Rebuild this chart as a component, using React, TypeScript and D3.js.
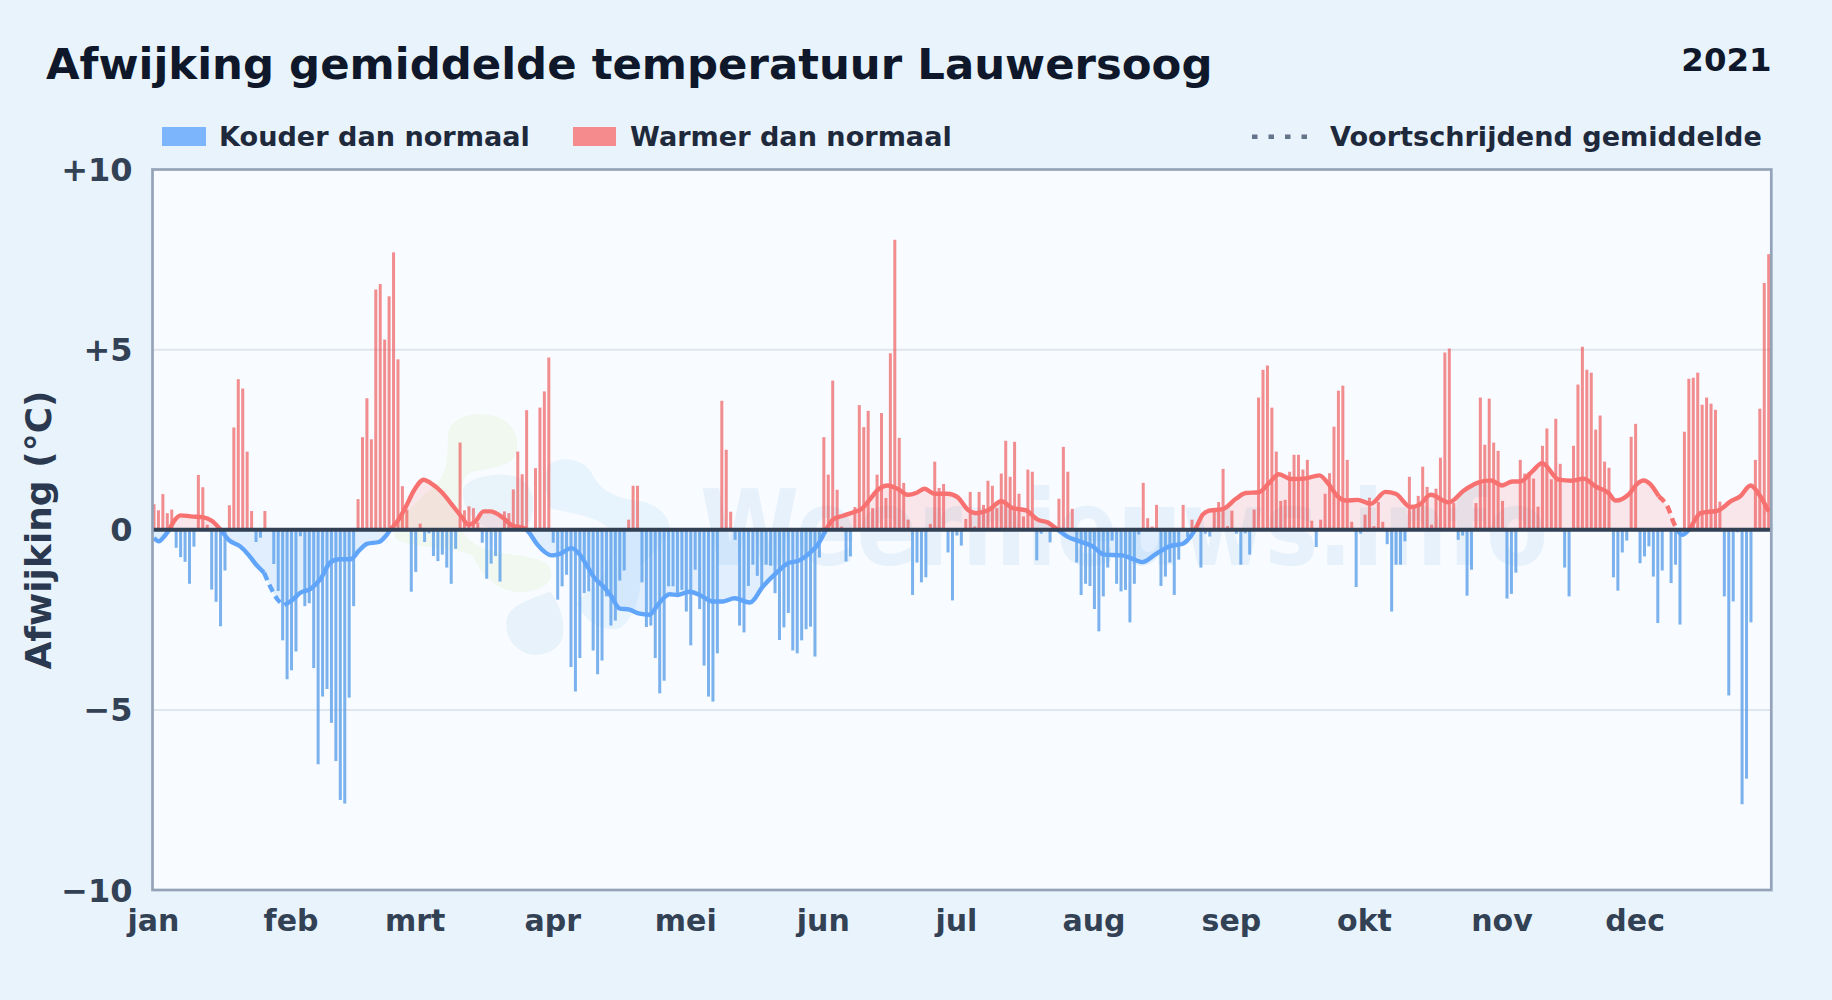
import React from "react";
import * as d3 from "d3";

const monthLabels = ["jan","feb","mrt","apr","mei","jun","jul","aug","sep","okt","nov","dec"];
const monthStarts = [0,31,59,90,120,151,181,212,243,273,304,334];
const yTicks = [10,5,0,-5,-10];
const yTickLabels = ["+10","+5","0","\u22125","\u221210"];

const janMar = [
 .71,.54,.99,.46,.56,-.5,-.76,-.89,-1.5,-.47,1.52,1.18,.14,-1.66,-2.0,-2.68,-1.13,.68,2.84,4.18,3.92,2.17,.52,-.34,-.22,.52,0,-.95,-1.7,-3.07,
 -4.15,-3.9,-3.38,-.18,-2.12,-2.04,-3.84,-6.51,-4.63,-4.42,-5.36,-6.42,-7.5,-7.6,-4.66,-2.12,.85,2.57,3.65,2.51,6.67,6.82,5.28,6.48,7.7,4.73,1.21,.56,-1.72,-1.17,
 .17,-.34,-.1,-.73,-.87,-.69,-1.05,-1.5,-.53,2.42,.54,.65,.6,.2,-.36,-1.36,-.94,-.73,-1.44,.51,.46,1.12,2.17,1.54,3.32,0,1.71,3.39,3.84,4.78
];
const aprJun = [
 -.36,-1.94,-1.57,-1.25,-3.81,-4.49,-3.56,-1.76,-1.71,-3.35,-4.01,-3.63,-1.85,-2.66,-2.52,-1.41,-1.13,.28,1.22,1.22,-1.46,-2.7,-2.66,-3.56,-4.54,-4.19,-1.57,-1.57,-1.8,-1.67,
 -2.27,-3.21,-1.11,-2.2,-3.77,-4.63,-4.77,-3.43,3.58,2.22,.5,-.28,-2.66,-2.85,-1.56,-.97,-1.28,-1.57,-.97,-1,-1.76,-3.06,-2.71,-2.31,-3.35,-3.43,-3.07,-2.76,-2.69,-3.52,-.77,
 2.57,1.53,4.14,1.11,.09,-.88,-.74,.63,3.46,2.85,3.3,.6,1.53,3.24,.88,4.9,8.05,2.55,1.3,.28,-1.81,-.91,-1.46,-1.32,.16,1.89,1.16,1.27,-.63,-1.96
];
const julSep = [
 -.16,-.44,.3,1.05,.09,1.05,.69,1.36,1.22,.6,1.56,2.47,1.47,2.44,1.0,.37,1.67,1.61,-.85,-.11,.05,-.35,-.05,.86,2.3,1.61,.58,-.91,-1.81,-1.5,-1.56,
 -2.2,-2.82,-1.85,-1.05,-.3,-1.5,-1.71,-1.67,-2.57,-1.5,-.13,1.3,.32,.09,.69,-1.56,-1.3,-.91,-1.81,-.83,.69,-.2,.28,.1,-1.05,-.11,-.19,.5,.77,1.69,.1,
 .53,-.11,-.97,-.1,-.69,.56,3.67,4.44,4.56,3.39,2.17,.8,.83,1.61,2.08,2.08,1.67,1.94,.25,-.48,.28,1.0,1.57,2.86,3.86,4.0,1.94,.22,-1.59,-.11
];
const oktDec = [
 .42,.89,.1,.77,.22,-.4,-2.27,-.97,-.97,-.32,1.47,.69,.94,1.75,1.19,.14,1.14,2.0,4.92,5.03,.74,-.28,-.16,-1.83,-1.11,.74,3.67,2.36,3.64,2.42,2.19,
 .8,-1.91,-1.78,-1.19,1.94,1.56,1.6,1.42,.64,2.33,2.81,1.4,3.08,1.83,-1.05,-1.85,2.33,4.03,5.08,4.44,4.36,2.78,3.17,1.89,1.72,-1.32,-1.69,-.63,-.3,
 2.58,2.94,-.93,-.74,-.46,-1.3,-2.59,-1.13,.05,-1.48,-.97,-2.63,2.72,4.19,4.22,4.36,3.47,3.67,3.5,3.33,.78,-1.85,-4.6,-1.99,-.07,-7.62,-6.91,-2.57,1.94,3.36,6.85,7.65
];
const dailyAnomaly = [...janMar, ...aprJun, ...julSep, ...oktDec];

const trendDays = [
 0,1.1,2,3.4,4.5,6,8.3,11,13.1,15,16.9,19.5,21.4,22.9,24.8,26.3,27.8,29.4,31.2,33,35.3,37.5,39.8,41.7,44.3,46.2,48,50.7,52.2,53.3,54.8,56.7,58.6,60.8,62.3,64.9,67.2,69.4,70.9,72.4,74.3,75.8,78.5,80.7,83.7,84.5,86.3,89.7,
 91.5,94.1,96,97.9,99.3,101.2,103.1,104.9,107.2,109.5,111.7,113.6,116.2,118.1,120.7,123,126,128.3,130.9,134.3,137.3,140.3,142.9,145.5,147.4,149.7,151.5,153,155.3,157.5,159.4,161.3,163.2,165.4,167.7,170,171.8,173.7,175.9,178.9,181.2,183.4,185.3,
 188.3,191,193.6,196.6,199.2,201.5,203.7,205.9,208.6,211.6,214.2,218.3,220.6,222.8,225.9,228.9,231.9,233.4,234.9,236.4,237.9,240.9,243.9,246.1,249.1,251.4,253.6,256.3,259.3,262.7,264.6,266.8,268.7,271.3,274.3,277.6,279.9,
 283.3,285.2,287.8,291.9,295.3,298.3,301.3,303.9,306.2,308,310.7,312.9,316.7,319.7,322.3,325,327.9,329.5,332.5,334.4,335.8,337.2,339.2,341.5,342.6,343.4,344.5,346,348.6,352.7,355.4,357.6,359.9,362.1,364
];
const trendValues = [
 -.23,-.32,-.23,0,.24,.4,.37,.35,.24,0,-.29,-.47,-.71,-.95,-1.19,-1.6,-1.93,-2.09,-1.95,-1.75,-1.64,-1.37,-.9,-.82,-.82,-.58,-.39,-.34,-.18,0,.22,.62,1.09,1.39,1.3,1.04,.69,.35,.14,.22,.51,.51,.35,.12,.03,-.07,-.39,-.71,
 -.67,-.51,-.69,-1.06,-1.34,-1.56,-1.85,-2.18,-2.22,-2.33,-2.36,-2.08,-1.79,-1.81,-1.72,-1.81,-1.99,-1.99,-1.9,-2.02,-1.57,-1.2,-.93,-.85,-.69,-.4,0,.28,.39,.48,.57,.83,1.11,1.23,1.13,.97,1.02,1.14,1.0,1.0,.9,.56,.46,
 .56,.79,.6,.54,.28,.2,0,-.19,-.32,-.46,-.69,-.71,-.81,-.9,-.67,-.46,-.39,-.23,.05,.42,.53,.57,.86,1.02,1.04,1.3,1.54,1.41,1.42,1.51,1.3,.93,.81,.83,.72,1.05,1.0,
 .63,.69,.97,.76,1.09,1.3,1.37,1.23,1.34,1.34,1.62,1.85,1.39,1.36,1.42,1.2,1.02,.81,.99,1.28,1.37,1.28,.93,.56,.19,0,-.14,0,.46,.54,.79,.93,1.23,.93,.51
];
const dashedSpans = [[24.8,29.4],[339.2,343.4]];

const W = 1832, H = 1000;
const L = 152.5, R = 1771.3, T = 169.5, B = 890;
const FONT = "'DejaVu Sans', sans-serif";
const x = d3.scaleLinear().domain([0,364]).range([154,1768.7]);
const y = d3.scaleLinear().domain([-10,10]).range([B,T]);
const trend = trendDays.map((d,i)=>({d, v: trendValues[i]}));
const lineGen = d3.line<{d:number,v:number}>().x(p=>x(p.d)).y(p=>y(p.v)).curve(d3.curveMonotoneX);
const areaGen = d3.area<{d:number,v:number}>().x(p=>x(p.d)).y0(y(0)).y1(p=>y(p.v)).curve(d3.curveMonotoneX);

const solidSpans: number[][] = [];
{
  let s = 0;
  dashedSpans.forEach(([a,b])=>{ solidSpans.push([s,a]); s = b; });
  solidSpans.push([s,364]);
}
const sub = ([a,b]: number[]) => trend.filter(p=>p.d>=a && p.d<=b);

function TrendLines({clip, color}:{clip:string,color:string}) {
  return <g clipPath={`url(#${clip})`} fill="none" stroke={color} strokeWidth={4.4} strokeLinejoin="round">
    {solidSpans.map((s,i)=><path key={i} d={lineGen(sub(s))||""}/>)}
    {dashedSpans.map((s,i)=><path key={i} d={lineGen(sub(s))||""} strokeDasharray="8 5"/>)}
  </g>;
}

export default function App() {
  return (
    <svg width={W} height={H} viewBox={`0 0 ${W} ${H}`} style={{position:"absolute",left:0,top:0,display:"block"}} fontFamily={FONT} fontWeight="bold">
      <defs>
        <clipPath id="plot"><rect x={L} y={T} width={R-L} height={B-T}/></clipPath>
        <clipPath id="above"><rect x={L} y={T} width={R-L} height={y(0)-T}/></clipPath>
        <clipPath id="below"><rect x={L} y={y(0)} width={R-L} height={B-y(0)}/></clipPath>
      </defs>
      <rect width={W} height={H} fill="#e8f3fc"/>
      <rect x={L} y={T} width={R-L} height={B-T} fill="#f8fbff"/>

      <g clipPath="url(#plot)">
        <g transform="translate(370,390) scale(0.3333)">
          <path fill="#f1f8f0" d="M235 130C240 85 300 65 360 75C420 85 450 130 440 190C430 225 370 235 310 245C270 255 280 300 270 340C260 400 270 440 330 470C390 500 480 490 530 520C565 560 530 600 470 605C400 615 340 570 310 500C280 470 120 480 75 445C60 410 130 340 190 290C240 250 230 190 235 130Z"/>
          <path fill="#e9f3fa" d="M280 295C300 260 380 245 440 260C490 280 500 340 480 395C450 420 400 425 350 410C310 400 270 340 280 295Z"/>
          <path fill="#e8f2fa" d="M410 690C415 650 470 630 540 605C570 640 590 700 575 750C560 790 490 810 450 780C420 760 405 730 410 690Z"/>
          <path fill="#e8f4fd" d="M535 225C570 195 640 205 665 250C690 300 730 325 820 335C880 350 910 400 895 430C880 460 850 490 810 530C820 590 800 680 750 715C700 730 640 690 620 640C650 600 740 560 720 420C690 380 600 370 540 355C525 300 520 260 535 225Z"/>
        </g>
        <text x={700} y={565} fontSize={105} fill="#e6f1fb" textLength={848} lengthAdjust="spacingAndGlyphs">Weernieuws.info</text>
      </g>

      {[5,-5].map(t=><line key={t} x1={L} x2={R} y1={y(t)} y2={y(t)} stroke="#e0e6ed" strokeWidth={2}/>)}

      <g clipPath="url(#plot)">
        <path d={areaGen(trend)||""} fill="#f87171" fillOpacity={0.15} clipPath="url(#above)"/>
        <path d={areaGen(trend)||""} fill="#60a5fa" fillOpacity={0.15} clipPath="url(#below)"/>
        {dailyAnomaly.map((v,i)=>v===0?null:
          <rect key={i} x={x(i)-1.5} width={3} y={v>0?y(v):y(0)} height={Math.abs(y(v)-y(0))} fill={v>0?"#ef4444":"#5ba0ea"} fillOpacity={v>0?0.6:0.8}/>
        )}
        <TrendLines clip="above" color="#f87171"/>
        <TrendLines clip="below" color="#60a5fa"/>
      </g>

      <line x1={L} x2={R} y1={y(0)} y2={y(0)} stroke="#334155" strokeWidth={4}/>
      <rect x={L} y={T} width={R-L} height={B-T} fill="none" stroke="#94a3b8" strokeWidth={2.7}/>

      {yTicks.map((t,i)=><text key={t} x={132.5} y={y(t)+11.5} textAnchor="end" fontSize={32} fill="#334155">{yTickLabels[i]}</text>)}
      {monthLabels.map((m,i)=><text key={m} x={x(monthStarts[i])-0.5} y={931} textAnchor="middle" fontSize={30} fill="#334155">{m}</text>)}
      <text transform="translate(51,530) rotate(-90)" textAnchor="middle" fontSize={36} fill="#2a3950">Afwijking (°C)</text>

      <text x={46} y={79} fontSize={43.4} fill="#0f172a">Afwijking gemiddelde temperatuur Lauwersoog</text>
      <text x={1771.5} y={70.5} textAnchor="end" fontSize={32.4} fill="#0f172a">2021</text>

      <rect x={162} y={127} width={44} height={19} fill="#60a5fa" fillOpacity={0.8}/>
      <text x={219} y={145.5} fontSize={27.1} fill="#1e293b">Kouder dan normaal</text>
      <rect x={573} y={127} width={43} height={19} fill="#f87171" fillOpacity={0.8}/>
      <text x={630} y={145.5} fontSize={27.1} fill="#1e293b">Warmer dan normaal</text>
      <line x1={1252} x2={1308} y1={136.7} y2={136.7} stroke="#64748b" strokeWidth={4.5} strokeDasharray="5.5 11"/>
      <text x={1330} y={145.5} fontSize={27.1} fill="#1e293b">Voortschrijdend gemiddelde</text>
    </svg>
  );
}
